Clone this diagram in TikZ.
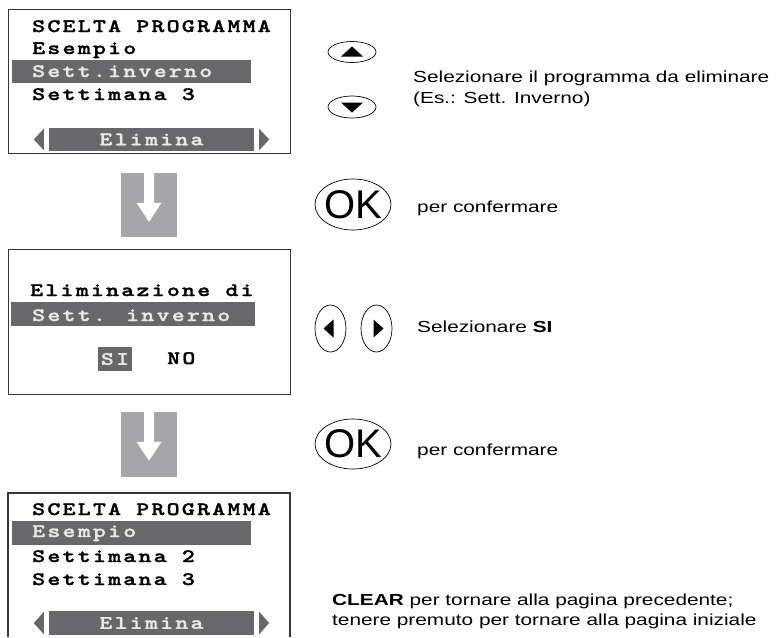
\documentclass[tikz,border=0pt]{standalone}
\usepackage{fontspec}
\setmainfont{Liberation Sans}[FakeStretch=1.3]
\newfontfamily\lcdfont{lmmonolt10-bold.otf}[FakeStretch=1.3, LetterSpace=11.7, FakeBold=1.5]
\newfontfamily\okfont{Liberation Sans}
\usepackage{tikz}
\usetikzlibrary{positioning,shapes.geometric,calc}
\definecolor{lcdbar}{RGB}{104,104,106}
\definecolor{lcdink}{RGB}{232,232,232}
\definecolor{stepgray}{RGB}{166,166,168}
\definecolor{frame}{RGB}{55,55,55}

\begin{document}
\begin{tikzpicture}[x=1pt, y=-1pt,
  screen/.style={rectangle, draw=frame, line width=1.2pt, inner sep=0pt,
    minimum width=282pt, minimum height=144pt, anchor=north west},
  bar/.style={rectangle, fill=lcdbar, inner sep=0pt},
  lcd/.style={anchor=base west, inner sep=0pt,
    font=\lcdfont\fontsize{19}{22}\selectfont},
  lcdsel/.style={lcd, text=lcdink},
  btn/.style={ellipse, draw=black, line width=0.7pt, inner sep=0pt},
  flow/.style={rectangle, fill=stepgray, inner sep=0pt,
    minimum width=56pt, minimum height=64pt},
  txt/.style={anchor=base west, inner sep=0pt, font=\fontsize{16}{20}\selectfont},
]
\useasboundingbox (0,0) rectangle (781,637);

% SCREEN 1: program list
\node[screen] (scr1) at (8,9) {};
\node[bar, minimum width=239pt, minimum height=23pt, anchor=north west] (hl1) at (12,60) {};
\node[lcd] (s1a) at (32,32) {SCELTA PROGRAMMA};
\node[lcd] (s1b) at (32,54) {Esempio};
\node[lcdsel] (s1c) at (32,77) {Sett.inverno};
\node[lcd] (s1d) at (32,100) {Settimana 3};
\node[bar, lcdsel, anchor=center, minimum width=205pt, minimum height=23pt] (del1) at (151.5,139.5) {Elimina};

% SCREEN 2: confirm
\node[screen, minimum height=145pt] (scr2) at (8,249) {};
\node[bar, minimum width=244pt, minimum height=24pt, anchor=north west] (hl2) at (11,302) {};
\node[lcd] (s2a) at (30,296) {Eliminazione di};
\node[lcdsel] (s2b) at (32,321) {Sett. inverno};
\node[bar, lcdsel, anchor=center, minimum width=34pt, minimum height=24pt] (si) at (115,359) {SI};
\node[lcd] (no) at (167,364) {NO};

% SCREEN 3: list after delete (cut at bottom)
\draw[draw=frame, line width=1.2pt] (8,637) |- (290,493) -- (290,637);
\node[bar, minimum width=239pt, minimum height=24pt, anchor=north west] (hl3) at (12,521) {};
\node[lcd] (s3a) at (32,515) {SCELTA PROGRAMMA};
\node[lcdsel] (s3b) at (32,537) {Esempio};
\node[lcd] (s3c) at (32,562) {Settimana 2};
\node[lcd] (s3d) at (32,585) {Settimana 3};
\node[bar, lcdsel, anchor=center, minimum width=205pt, minimum height=24pt] (del3) at (151.5,623) {Elimina};

% side arrows of the Elimina bars
\foreach \d in {del1,del3} {
  \fill[lcdbar] ($(\d.north west)+(-5,1)$) -- ($(\d.south west)+(-5,-1)$) -- ($(\d.west)+(-15,0)$) -- cycle;
  \fill[lcdbar] ($(\d.north east)+(5,1)$) -- ($(\d.south east)+(5,-1)$) -- ($(\d.east)+(15,0)$) -- cycle;
}

% STEP ARROWS
\node[flow] (flow1) at (149,205) {};
\node[flow, minimum height=65pt] (flow2) at (149,444.5) {};
\foreach \f in {flow1,flow2} {
  \fill[white] ($(\f.north)+(-5,0)$) -- ++(0,30) -- ++(-7.5,0) -- ($(\f.north)+(0,49)$)
    -- ($(\f.north)+(12.5,30)$) -- ($(\f.north)+(5,30)$) -- ($(\f.north)+(5,0)$) -- cycle;
}

% KEYS
\node[btn, minimum width=48pt, minimum height=21pt] (up) at (352,52) {};
\fill ($(up)+(-11,4.5)$) -- ($(up)+(11,4.5)$) -- ($(up)+(0,-5.5)$) -- cycle;
\node[btn, minimum width=48pt, minimum height=22pt] (down) at (352,107) {};
\fill ($(down)+(-11,-4.5)$) -- ($(down)+(11,-4.5)$) -- ($(down)+(0,5.5)$) -- cycle;
\node[btn, minimum width=76pt, minimum height=51pt,
  label={[font=\okfont\fontsize{40}{40}\selectfont]center:OK}] (ok1) at (353,204.5) {};
\node[btn, minimum width=31pt, minimum height=47pt] (left) at (330.5,328.5) {};
\fill ($(left)+(3,-9)$) -- ($(left)+(3,9)$) -- ($(left)+(-7,0)$) -- cycle;
\node[btn, minimum width=31pt, minimum height=47pt] (right) at (376.5,328.5) {};
\fill ($(right)+(-3,-9)$) -- ($(right)+(-3,9)$) -- ($(right)+(7,0)$) -- cycle;
\node[btn, minimum width=76pt, minimum height=50pt,
  label={[font=\okfont\fontsize{40}{40}\selectfont]center:OK}] (ok2) at (353,444) {};

% TEXTS
\node[txt] (t1a) at (413,82) {Selezionare il programma da eliminare};
\node[txt] (t1b) at (413,103) {(Es.: Sett. Inverno)};
\node[txt] (t2) at (417,212) {per confermare};
\node[txt] (t3) at (417,332) {Selezionare \textbf{SI}};
\node[txt] (t4) at (417,455) {per confermare};
\node[txt] (t5a) at (332,605) {\textbf{CLEAR} per tornare alla pagina precedente;};
\node[txt] (t5b) at (332,625) {tenere premuto per tornare alla pagina iniziale};
\end{tikzpicture}
\end{document}
